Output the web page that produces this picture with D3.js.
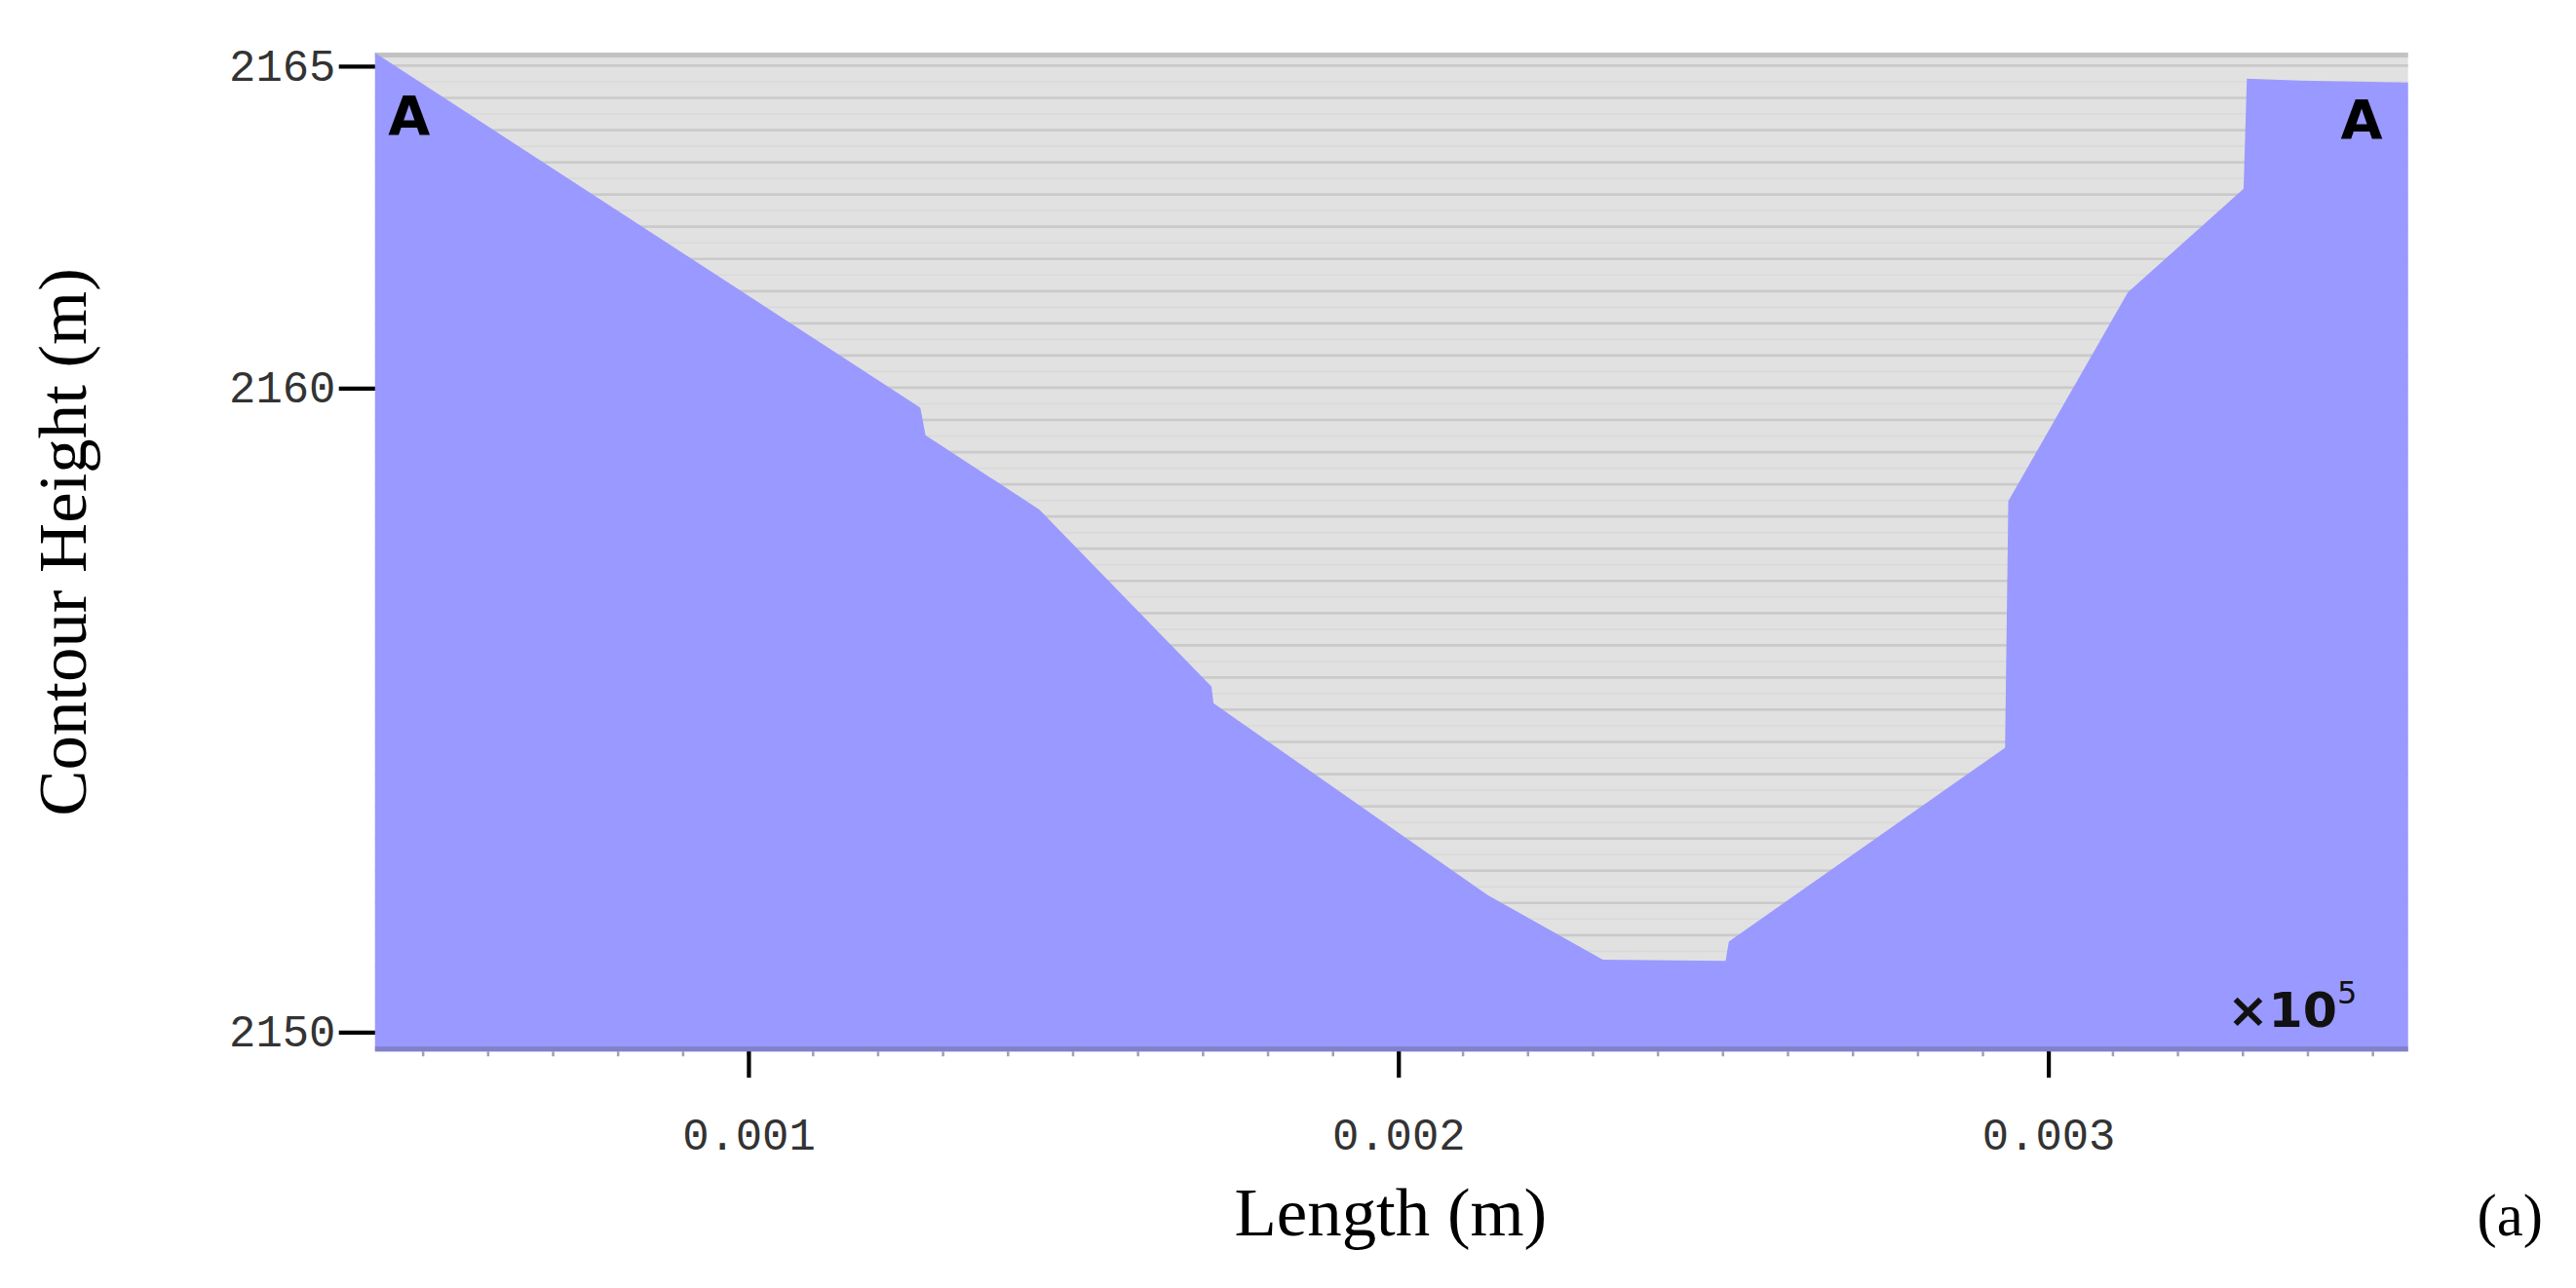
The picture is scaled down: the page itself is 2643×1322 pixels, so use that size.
<!DOCTYPE html>
<html>
<head>
<meta charset="utf-8">
<script src="https://cdn.jsdelivr.net/npm/d3@7"></script>
<style>
  body { margin: 0; background: #fff; }
</style>
</head>
<body>
<svg id="chart"></svg>
<script>
// profile section (length in m, height in m)
var lengths = [0.000426, 0.001265, 0.001273, 0.001448, 0.001713, 0.001716, 0.002138,
               0.002315, 0.002504, 0.002509, 0.002934, 0.002939, 0.003123, 0.003301,
               0.003306, 0.003389, 0.003554];
var heights = [2165.2, 2159.69, 2159.26, 2158.11, 2155.36, 2155.10, 2152.12,
               2151.12, 2151.10, 2151.40, 2154.41, 2158.24, 2161.48, 2163.09,
               2164.80, 2164.77, 2164.74];
var xTicks = [0.001, 0.002, 0.003];
var yTicks = [2150, 2160, 2165];
var xDomain = [0.000426, 0.003554];
var yDomain = [2150, 2165];

var W = 1567, H = 784;
var svg = d3.select("#chart")
    .attr("width", 2643).attr("height", 1322)
    .attr("viewBox", "0 0 " + W + " " + H);

var pLeft = 228, pRight = 1465, pTop = 32, pBottom = 640;
var x = d3.scaleLinear().domain(xDomain).range([pLeft, pRight]);
var y = d3.scaleLinear().domain(yDomain).range([628, 40]);

// grey background with contour stripes
svg.append("rect").attr("x", pLeft).attr("y", pTop)
    .attr("width", pRight - pLeft).attr("height", pBottom - pTop)
    .attr("fill", "#e1e1e1");
svg.append("rect").attr("x", pLeft).attr("y", pTop)
    .attr("width", pRight - pLeft).attr("height", 3)
    .attr("fill", "#c2c2c2");

var stripes = d3.range(2150, 2165.01, 0.5);
svg.selectAll(".stripe").data(stripes).enter().append("line")
    .attr("x1", pLeft).attr("x2", pRight)
    .attr("y1", function (d) { return y(d); })
    .attr("y2", function (d) { return y(d); })
    .attr("stroke", "#cacaca").attr("stroke-width", 1.6);
svg.selectAll(".stripe2").data(stripes.slice(0, -1)).enter().append("line")
    .attr("x1", pLeft).attr("x2", pRight)
    .attr("y1", function (d) { return y(d + 0.25); })
    .attr("y2", function (d) { return y(d + 0.25); })
    .attr("stroke", "#d9d9d9").attr("stroke-width", 1);

// ground
var pts = lengths.map(function (l, i) { return [l, heights[i]]; });
var area = d3.area()
    .x(function (d) { return x(d[0]); })
    .y0(pBottom)
    .y1(function (d) { return Math.max(pTop, y(d[1])); });
svg.append("path").datum(pts).attr("d", area).attr("fill", "#9999ff");

// bottom strip with minor ticks
svg.append("rect").attr("x", pLeft).attr("y", pBottom - 3)
    .attr("width", pRight - pLeft).attr("height", 3).attr("fill", "#8081c8");
var minor = d3.range(0.0005, 0.00355, 0.0001);
svg.selectAll(".minor").data(minor).enter().append("line")
    .attr("x1", function (d) { return x(d); }).attr("x2", function (d) { return x(d); })
    .attr("y1", pBottom).attr("y2", pBottom + 3)
    .attr("stroke", "#a0a0b8").attr("stroke-width", 1.5);

// axes
var xAxis = d3.axisBottom(x).tickValues(xTicks).tickSize(16).tickFormat(d3.format(".3f"));
var gx = svg.append("g").attr("transform", "translate(0," + pBottom + ")").call(xAxis);
gx.select(".domain").remove();
gx.selectAll(".tick line").attr("stroke", "#000").attr("stroke-width", 2.5);
gx.selectAll(".tick text").attr("dy", "1.5em")
    .style("font-family", "Liberation Mono").style("font-size", "27px").attr("fill", "#333");

var yAxis = d3.axisLeft(y).tickValues(yTicks).tickSize(22).tickPadding(2).tickFormat(d3.format("d"));
var gy = svg.append("g").attr("transform", "translate(" + pLeft + ",0)").call(yAxis);
gy.select(".domain").remove();
gy.selectAll(".tick line").attr("stroke", "#000").attr("stroke-width", 2.5);
gy.selectAll(".tick text")
    .style("font-family", "Liberation Mono").style("font-size", "27px").attr("fill", "#333");

// labels
svg.append("text").attr("x", 236).attr("y", 82).text("A")
    .style("font-family", "DejaVu Sans").style("font-weight", "bold").style("font-size", "33px");
svg.append("text").attr("x", 1424).attr("y", 84).text("A")
    .style("font-family", "DejaVu Sans").style("font-weight", "bold").style("font-size", "33px");

var mult = svg.append("text").attr("x", 1355).attr("y", 625)
    .style("font-family", "DejaVu Sans").style("font-size", "30px")
    .style("font-weight", "bold").attr("fill", "#111");
mult.append("tspan").text("×10");
mult.append("tspan").attr("dy", -14).style("font-size", "19px").style("font-weight", "normal").text("5");

svg.append("text").attr("x", 846).attr("y", 752).attr("text-anchor", "middle")
    .text("Length (m)")
    .style("font-family", "Liberation Serif").style("font-size", "42px");
svg.append("text").attr("transform", "translate(52,330) rotate(-90)")
    .attr("text-anchor", "middle").text("Contour Height (m)")
    .style("font-family", "Liberation Serif").style("font-size", "42px");
svg.append("text").attr("x", 1527).attr("y", 752).attr("text-anchor", "middle")
    .text("(a)")
    .style("font-family", "Liberation Serif").style("font-size", "36px");
</script>
</body>
</html>
